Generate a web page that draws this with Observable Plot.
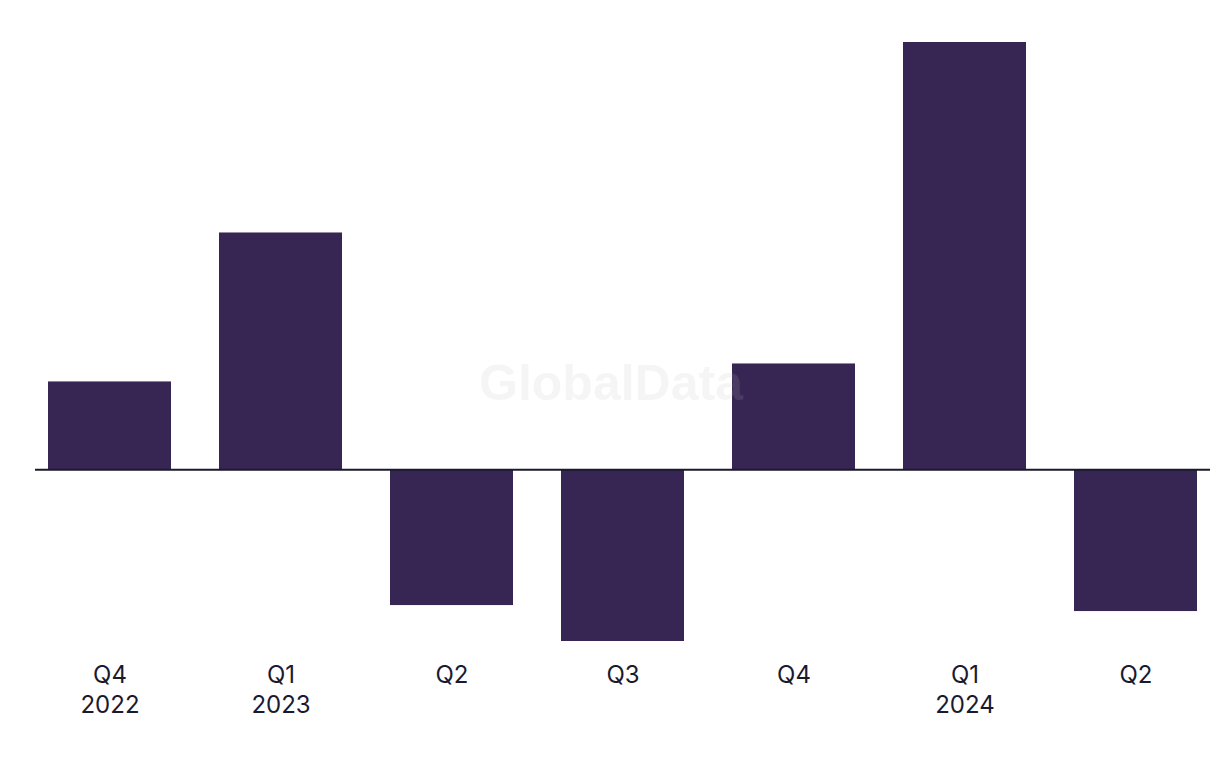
<!DOCTYPE html>
<html>
<head>
<meta charset="utf-8">
<script src="https://cdn.jsdelivr.net/npm/d3@7"></script>
<script src="https://cdn.jsdelivr.net/npm/@observablehq/plot@0.6"></script>
<style>
  html, body { margin: 0; padding: 0; background: #ffffff; }
  #chart svg { display: block; }
</style>
</head>
<body>
<div id="chart"></div>
<script>
const quarters = ["Q4", "Q1", "Q2", "Q3", "Q4", "Q1", "Q2"];
const years = ["2022", "2023", "", "", "", "2024", ""];
const values = [2.2, 5.93, -3.4, -4.3, 2.65, 10.7, -3.55];

const data = values.map((v, i) => ({i, v}));
const labelOf = i => quarters[i] + (years[i] ? "\n" + years[i] : "");

const chart = Plot.plot({
  width: 1220,
  height: 768,
  marginTop: 42,
  marginBottom: 127,
  marginLeft: 35,
  marginRight: 10,
  style: {background: "#ffffff", fontFamily: "Inter, 'Liberation Sans', sans-serif"},
  x: {domain: d3.range(values.length), paddingInner: 0.28, paddingOuter: 0.0725, align: 0.5},
  y: {domain: [-4.3, 10.7], axis: null},
  marks: [
    Plot.barY(data, {x: "i", y: "v", fill: "#372554"}),
    Plot.ruleY([0], {stroke: "#1a1a2e", strokeWidth: 2}),
    Plot.axisX({tickSize: 0, tickPadding: 20, fontSize: 24, lineHeight: 1.25, fill: "#1a1a2e", tickFormat: labelOf, label: null}),
    Plot.text(["GlobalData"], {frameAnchor: "middle", dx: -12, dy: 42, fontSize: 50, fontWeight: "bold", fontFamily: "'Liberation Sans', Arial, sans-serif", fill: "#bdbdbd", fillOpacity: 0.15})
  ]
});
document.getElementById("chart").append(chart);
</script>
</body>
</html>
